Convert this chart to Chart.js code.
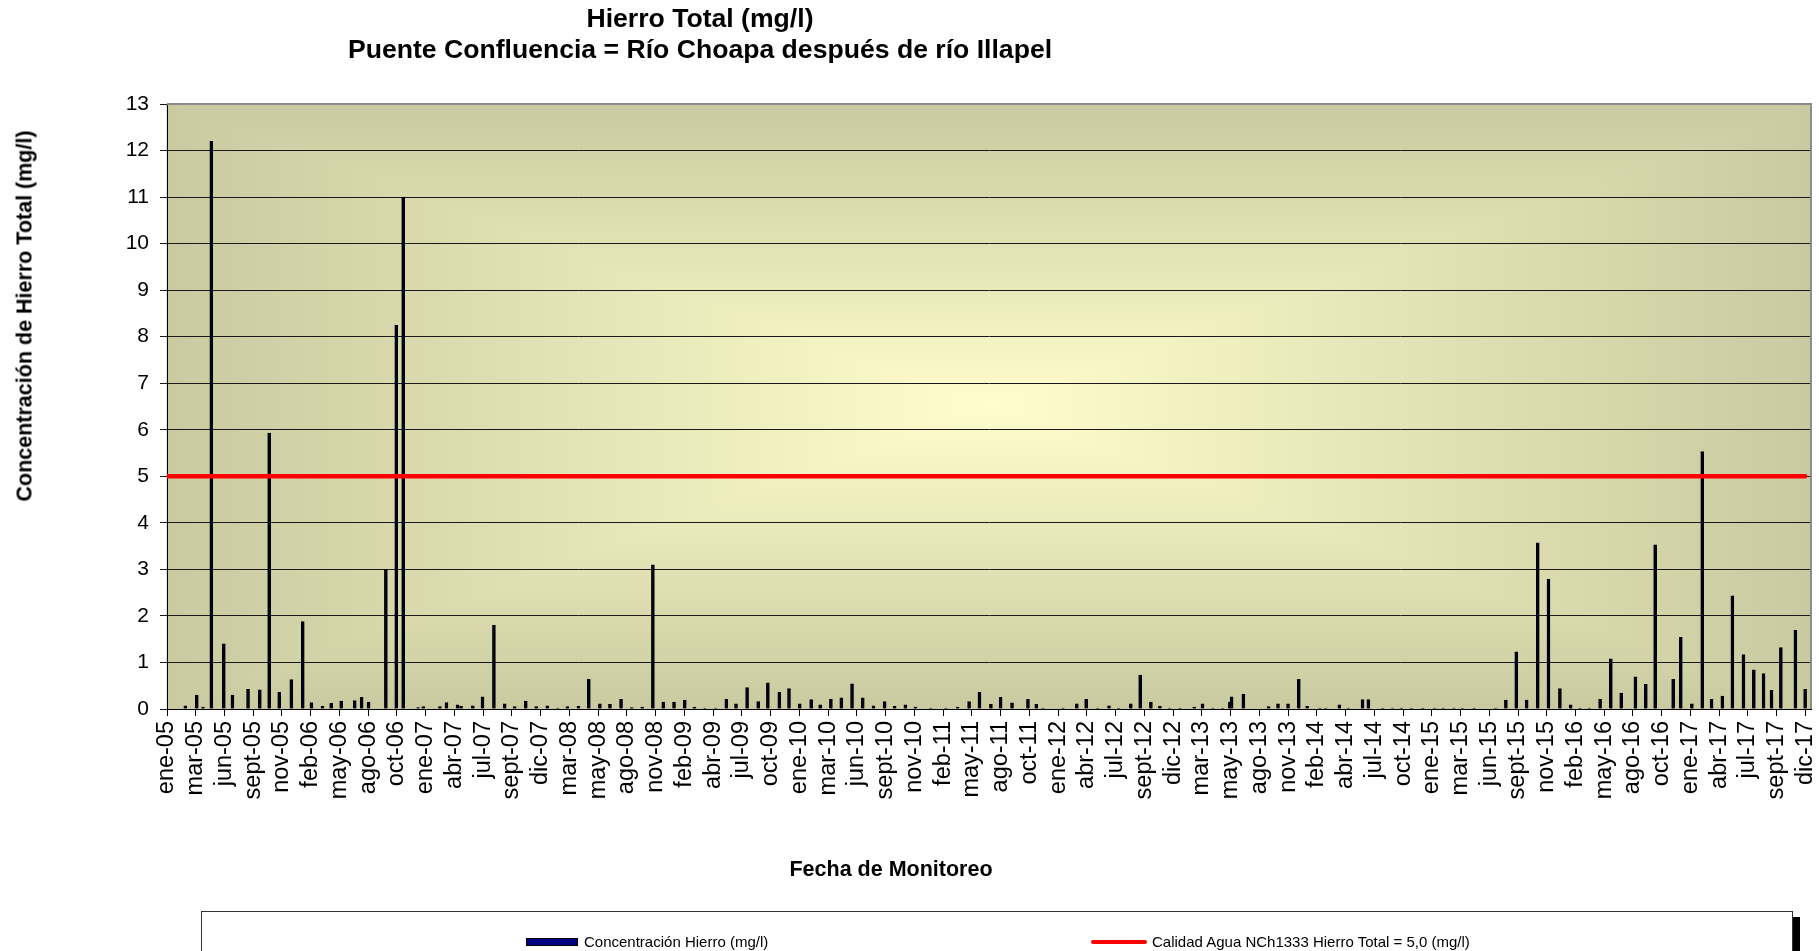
<!DOCTYPE html>
<html lang="es">
<head>
  <meta charset="UTF-8">
  <title>Hierro Total - Puente Confluencia</title>
  <script src="https://cdn.jsdelivr.net/npm/chart.js"></script>
  <style>
    body {
      margin: 0;
      background: #fff;
      font-family: 'Liberation Sans', Arial, sans-serif;
      color: #000;
    }

    .wrap {
      position: relative;
      width: 1819px;
      height: 951px;
      overflow: hidden;
    }

    canvas {
      position: absolute;
      left: 0;
      top: 0;
    }

    .title {
      position: absolute;
      left: 0;
      top: 3px;
      width: 1400px;
      text-align: center;
      font-weight: bold;
      font-size: 26.6px;
      line-height: 31px;
    }

    .axis-title {
      position: absolute;
      font-weight: bold;
      font-size: 21.5px;
      white-space: nowrap;
      transform: translate(-50%, -50%);
    }

    .axis-title.y {
      left: 25px;
      top: 316px;
      transform: translate(-50%, -50%) rotate(-90deg);
    }

    .axis-title.x {
      left: 891px;
      top: 869px;
    }

    .legend {
      position: absolute;
      left: 201px;
      top: 911px;
      width: 1590px;
      height: 80px;
      border: 1px solid #333;
      box-shadow: 7px 6px 0 #000;
      background: #fff;
    }

    .legend span {
      position: absolute;
      font-size: 15px;
      line-height: 18px;
      top: 21px;
      white-space: nowrap;
    }

    .legend .swatch {
      position: absolute;
    }
  </style>
</head>

<body>
  <div class="wrap">
    <canvas id="ironChart" width="1819" height="951"></canvas>
    <div class="title">Hierro Total (mg/l)<br>Puente Confluencia = Río Choapa después de río Illapel</div>
    <div class="axis-title y">Concentración de Hierro Total (mg/l)</div>
    <div class="axis-title x">Fecha de Monitoreo</div>
    <div class="legend">
      <div class="swatch" style="left:324px; top:26px; width:50px; height:6px; background:#000080; border:1px solid #000;"></div>
      <span style="left:382px;">Concentración Hierro (mg/l)</span>
      <div class="swatch" style="left:889px; top:28px; width:56px; height:4px; background:#ff0000; border-radius:2px;"></div>
      <span style="left:950px;">Calidad Agua NCh1333 Hierro Total = 5,0 (mg/l)</span>
    </div>
  </div>

  <script>
    // eje de fechas: inicio, fin y paso de las etiquetas (días)
    const startDate = '2005-01-01';
    const endDate = '2017-12-31';
    const tickStepDays = 83;

    const tickLabels = [
      'ene-05', 'mar-05', 'jun-05', 'sept-05', 'nov-05',
      'feb-06', 'may-06', 'ago-06', 'oct-06',
      'ene-07', 'abr-07', 'jul-07', 'sept-07', 'dic-07',
      'mar-08', 'may-08', 'ago-08', 'nov-08',
      'feb-09', 'abr-09', 'jul-09', 'oct-09',
      'ene-10', 'mar-10', 'jun-10', 'sept-10', 'nov-10',
      'feb-11', 'may-11', 'ago-11', 'oct-11',
      'ene-12', 'abr-12', 'jul-12', 'sept-12', 'dic-12',
      'mar-13', 'may-13', 'ago-13', 'nov-13',
      'feb-14', 'abr-14', 'jul-14', 'oct-14',
      'ene-15', 'mar-15', 'jun-15', 'sept-15', 'nov-15',
      'feb-16', 'may-16', 'ago-16', 'oct-16',
      'ene-17', 'abr-17', 'jul-17', 'sept-17', 'dic-17'
    ];

    // fechas de muestreo
    const sampleDates = [
      '2005-02-23', '2005-03-28', '2005-04-15', '2005-05-09', '2005-06-14', '2005-07-09',
      '2005-08-23', '2005-09-26', '2005-10-23', '2005-11-21', '2005-12-26',
      '2006-01-28', '2006-02-22', '2006-03-26', '2006-04-20', '2006-05-19', '2006-06-27',
      '2006-07-17', '2006-08-06', '2006-09-25', '2006-10-25', '2006-11-14', '2006-12-27',
      '2007-01-11', '2007-02-28', '2007-03-19', '2007-04-20', '2007-04-30', '2007-06-03',
      '2007-07-01', '2007-08-03', '2007-09-03', '2007-10-02', '2007-11-03', '2007-12-03',
      '2008-01-04', '2008-02-03', '2008-03-02', '2008-04-03', '2008-05-03', '2008-06-04',
      '2008-07-03', '2008-08-04', '2008-09-04', '2008-10-04', '2008-11-04', '2008-12-04',
      '2009-01-04', '2009-02-04', '2009-03-04', '2009-04-03', '2009-05-04', '2009-06-04',
      '2009-07-02', '2009-08-03', '2009-09-04', '2009-10-02', '2009-11-04', '2009-12-02',
      '2010-01-02', '2010-02-04', '2010-03-02', '2010-04-02', '2010-05-02', '2010-06-02',
      '2010-07-03', '2010-08-03', '2010-09-04', '2010-10-03', '2010-11-03', '2010-12-02',
      '2011-01-15', '2011-02-28', '2011-04-03', '2011-05-06', '2011-06-05', '2011-07-08',
      '2011-08-05', '2011-09-07', '2011-10-23', '2011-11-16', '2011-12-05',
      '2012-02-01', '2012-03-12', '2012-04-08', '2012-05-11', '2012-06-13', '2012-07-11',
      '2012-08-15', '2012-09-11', '2012-10-12', '2012-11-07', '2012-12-05',
      '2013-01-04', '2013-02-14', '2013-03-10', '2013-04-09', '2013-05-07', '2013-05-28',
      '2013-06-02', '2013-07-06', '2013-09-17', '2013-10-14', '2013-11-12', '2013-12-13',
      '2014-01-06', '2014-02-12', '2014-03-01', '2014-04-09', '2014-05-05', '2014-06-15',
      '2014-07-02', '2014-08-12', '2014-09-09', '2014-10-05', '2014-11-03', '2014-12-06',
      '2015-01-09', '2015-02-03', '2015-03-06', '2015-03-30', '2015-05-03', '2015-07-05',
      '2015-08-03', '2015-09-02', '2015-10-02', '2015-11-03', '2015-12-04',
      '2016-01-06', '2016-02-06', '2016-03-04', '2016-03-31', '2016-05-01', '2016-06-01',
      '2016-07-01', '2016-08-11', '2016-09-10', '2016-10-07', '2016-11-28', '2016-12-20',
      '2017-01-21', '2017-02-20', '2017-03-19', '2017-04-19', '2017-05-18', '2017-06-19',
      '2017-07-19', '2017-08-16', '2017-09-08', '2017-10-05', '2017-11-16', '2017-12-14'
    ];

    // concentración de hierro total (mg/l)
    const ironValues = [
      0.07, 0.30, 0.04, 12.2, 1.40, 0.30,
      0.42, 0.41, 5.93, 0.36, 0.63,
      1.88, 0.14, 0.06, 0.12, 0.17, 0.18,
      0.25, 0.15, 3.00, 8.25, 11.0, 0.03,
      0.05, 0.05, 0.14, 0.09, 0.06, 0.07,
      0.26, 1.80, 0.11, 0.05, 0.17, 0.05,
      0.07, 0.02, 0.05, 0.06, 0.64, 0.11,
      0.10, 0.21, 0.03, 0.04, 3.10, 0.15,
      0.15, 0.19, 0.04, 0.02, 0.02, 0.21,
      0.11, 0.46, 0.16, 0.56, 0.36, 0.44,
      0.11, 0.20, 0.09, 0.21, 0.24, 0.54,
      0.24, 0.07, 0.16, 0.06, 0.09, 0.04,
      0.02, 0.02, 0.04, 0.16, 0.36, 0.10,
      0.25, 0.13, 0.21, 0.10, 0.02,
      0.02, 0.11, 0.21, 0.02, 0.07, 0.02,
      0.11, 0.73, 0.15, 0.06, 0.02,
      0.02, 0.04, 0.11, 0.02, 0.02, 0.15,
      0.26, 0.32, 0.05, 0.11, 0.11, 0.64,
      0.06, 0.02, 0.02, 0.09, 0.02, 0.20,
      0.20, 0.02, 0.02, 0.02, 0.02, 0.02,
      0.02, 0.02, 0.02, 0.02, 0.02, 0.02,
      0.19, 1.23, 0.19, 3.57, 2.79,
      0.44, 0.09, 0.02, 0.02, 0.21, 1.08,
      0.34, 0.69, 0.53, 3.53, 0.64, 1.54,
      0.11, 5.53, 0.21, 0.28, 2.43, 1.17,
      0.84, 0.76, 0.40, 1.32, 1.69, 0.42
    ];

    // norma NCh1333
    const limitValue = 5;

    const DAY = 86400000;
    const dayIndex = d => (Date.parse(d) - Date.parse(startDate)) / DAY;

    const ironPoints = sampleDates.map((d, i) => ({ x: dayIndex(d), y: ironValues[i] }));
    const limitPoints = [
      { x: 0, y: limitValue },
      { x: dayIndex(sampleDates[sampleDates.length - 1]), y: limitValue }
    ];

    // fondo degradado desde el centro del área de trazado (como Excel)
    const plotBackground = {
      id: 'plotBackground',
      beforeDraw(chart) {
        const { ctx, chartArea: a } = chart;
        const cx = (a.left + a.right) / 2;
        const cy = (a.top + a.bottom) / 2;
        const edge = '#c9caa0';
        const mid = '#fffdcc';
        const parts = [
          [[a.left, a.top], [a.right, a.top], [cx, a.top]],
          [[a.left, a.bottom], [a.right, a.bottom], [cx, a.bottom]],
          [[a.left, a.top], [a.left, a.bottom], [a.left, cy]],
          [[a.right, a.top], [a.right, a.bottom], [a.right, cy]]
        ];
        ctx.save();
        parts.forEach(([p1, p2, from]) => {
          const g = ctx.createLinearGradient(from[0], from[1], cx, cy);
          g.addColorStop(0, edge);
          g.addColorStop(1, mid);
          ctx.beginPath();
          ctx.moveTo(p1[0], p1[1]);
          ctx.lineTo(p2[0], p2[1]);
          ctx.lineTo(cx, cy);
          ctx.closePath();
          ctx.fillStyle = g;
          ctx.strokeStyle = g;
          ctx.lineWidth = 1;
          ctx.fill();
          ctx.stroke();
        });
        ctx.restore();
      },
      afterDraw(chart) {
        const { ctx, chartArea: a } = chart;
        ctx.save();
        ctx.strokeStyle = '#8c8c8c';
        ctx.lineWidth = 2;
        ctx.beginPath();
        ctx.moveTo(a.left, a.top);
        ctx.lineTo(a.right, a.top);
        ctx.lineTo(a.right, a.bottom);
        ctx.stroke();
        ctx.restore();
      }
    };

    const font = "'Liberation Sans', Arial, sans-serif";

    new Chart(document.getElementById('ironChart'), {
      type: 'bar',
      data: {
        datasets: [
          {
            type: 'line',
            label: 'Calidad Agua NCh1333 Hierro Total = 5,0 (mg/l)',
            data: limitPoints,
            borderColor: '#ff0000',
            borderWidth: 4.5,
            borderCapStyle: 'round',
            pointRadius: 0,
            order: 0
          },
          {
            label: 'Concentración Hierro (mg/l)',
            data: ironPoints,
            backgroundColor: '#000020',
            borderColor: '#000000',
            borderWidth: 1,
            barThickness: 3,
            order: 1
          }
        ]
      },
      options: {
        responsive: false,
        animation: false,
        layout: { padding: { top: 104, right: 8, bottom: 0, left: 0 } },
        plugins: {
          legend: { display: false },
          title: { display: false },
          tooltip: { enabled: false }
        },
        scales: {
          x: {
            type: 'linear',
            bounds: 'data',
            offset: false,
            min: 0,
            max: dayIndex(endDate),
            afterFit: s => {
              s.height = 242;
              // las etiquetas giradas no deben estrechar el área de trazado
              s.paddingLeft = 0;
              s.paddingRight = 0;
            },
            afterBuildTicks: s => {
              s.ticks = tickLabels.map((_, i) => ({ value: i * tickStepDays }));
            },
            ticks: {
              autoSkip: false,
              minRotation: 90,
              maxRotation: 90,
              padding: 5,
              color: '#000',
              font: { family: font, size: 23.5 },
              callback: (value, index) => tickLabels[index]
            },
            grid: { offset: false, drawOnChartArea: false, tickLength: 7, color: '#000' },
            border: { color: '#000', width: 1 }
          },
          y: {
            min: 0,
            max: 13,
            afterFit: s => { s.width = 167; },
            ticks: {
              stepSize: 1,
              padding: 11,
              color: '#000',
              font: { family: font, size: 21 }
            },
            grid: { color: '#1a1a1a', lineWidth: 1, tickLength: 7 },
            border: { color: '#000', width: 1 }
          }
        }
      },
      plugins: [plotBackground]
    });
  </script>
</body>
</html>
